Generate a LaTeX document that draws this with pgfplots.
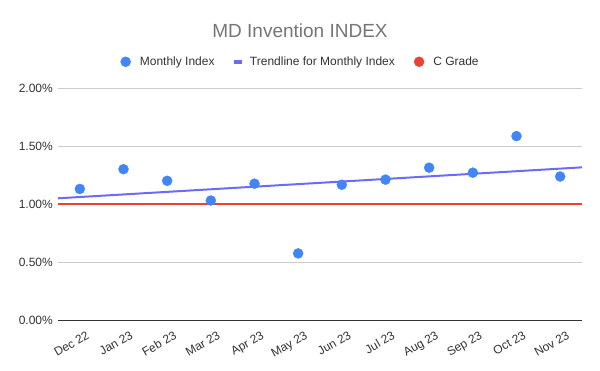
\documentclass[border=0pt]{standalone}
\usepackage{fontspec}
\setmainfont{Liberation Sans}
\usepackage{pgfplots}
\pgfplotsset{compat=1.18}
\definecolor{ptblue}{HTML}{4285F4}
\definecolor{trend}{HTML}{6B6BF7}
\definecolor{cred}{HTML}{EA4335}
\definecolor{titlegray}{HTML}{757575}
\definecolor{ticktext}{HTML}{333333}
\definecolor{gridgray}{HTML}{CCCCCC}
\begin{document}
\begin{tikzpicture}[x=1pt,y=1pt]
\useasboundingbox (0,0) rectangle (600,371);
\node[font=\fontsize{19}{22}\selectfont, text=titlegray, inner sep=0pt] at (300,340.5) {MD Invention INDEX};
\begin{axis}[
  at={(58pt,51pt)}, anchor=south west,
  scale only axis, width=524pt, height=232pt,
  xmin=-0.5, xmax=11.5, ymin=0, ymax=2,
  axis x line*=bottom, axis y line*=left,
  x axis line style={draw=black!80, line width=0.8pt, -},
  y axis line style={draw=none},
  major tick length=0pt,
  ymajorgrids, grid style={gridgray, line width=0.6pt},
  ytick={0,0.5,1,1.5,2},
  /pgf/number format/assume math mode=true,
  yticklabel={\pgfmathprintnumber[fixed,fixed zerofill,precision=2]{\tick}\%},
  yticklabel style={font=\fontsize{12}{14}\selectfont, text=ticktext, inner sep=0pt, anchor=east, xshift=-5pt},
  xtick={0,1,2,3,4,5,6,7,8,9,10,11},
  xticklabels={Dec 22,Jan 23,Feb 23,Mar 23,Apr 23,May 23,Jun 23,Jul 23,Aug 23,Sep 23,Oct 23,Nov 23},
  xticklabel style={font=\fontsize{12}{14}\selectfont, text=ticktext, inner sep=0pt, rotate=30, anchor=north east, xshift=0pt, yshift=-12pt},
  legend style={at={(0.461,1.113)}, anchor=center, draw=none, fill=none,
    font=\fontsize{12}{14}\selectfont, text=ticktext, legend columns=3,
    nodes={inner sep=0pt},
    /tikz/every odd column/.append style={column sep=9pt},
    /tikz/every even column/.append style={column sep=19pt}},
  clip=false,
]
\addlegendimage{legend image code/.code={\fill[ptblue] (5pt,0pt) circle (5pt);}}
\addlegendentry{Monthly Index}
\addlegendimage{legend image code/.code={\fill[trend] (0pt,-1.5pt) rectangle (7pt,1.5pt);}}
\addlegendentry{Trendline for Monthly Index}
\addlegendimage{legend image code/.code={\fill[cred] (5pt,0pt) circle (5pt);}}
\addlegendentry{C Grade}
\addplot[cred, line width=2pt, forget plot] coordinates {(-0.5,1.00) (11.5,1.00)};
\addplot[trend, line width=2pt, forget plot] coordinates {(-0.5,1.049) (11.5,1.316)};
\addplot[ptblue, only marks, mark=*, mark size=5pt, mark options={draw=none, fill=ptblue}, forget plot] coordinates {
(0,1.13) (1,1.30) (2,1.20) (3,1.03) (4,1.175) (5,0.574)
(6,1.166) (7,1.21) (8,1.313) (9,1.27) (10,1.585) (11,1.237)};
\end{axis}
\end{tikzpicture}
\end{document}
